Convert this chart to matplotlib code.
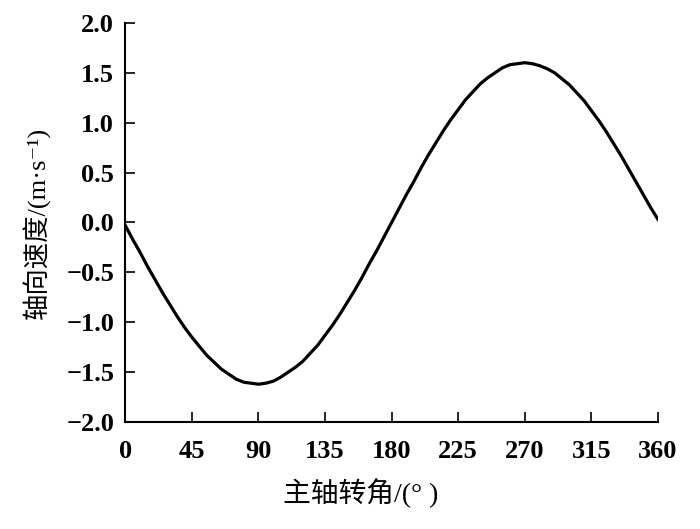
import matplotlib
matplotlib.use('Agg')
import matplotlib.pyplot as plt
from matplotlib import rcParams

rcParams['font.family'] = ['Liberation Serif', 'Noto Sans CJK SC', 'DejaVu Serif']
rcParams['axes.linewidth'] = 1.5

# main shaft angle (deg) and axial velocity (m/s)
angle = [0, 5, 10, 15, 20, 25, 30, 35, 40, 45, 50, 55, 60, 65, 70, 75, 80, 85, 90,
         95, 100, 105, 110, 115, 120, 125, 130, 135, 140, 145, 150, 155, 160, 165, 170, 175, 180,
         185, 190, 195, 200, 205, 210, 215, 220, 225, 230, 235, 240, 245, 250, 255, 260, 265, 270,
         275, 280, 285, 290, 295, 300, 305, 310, 315, 320, 325, 330, 335, 340, 345, 350, 355, 360]
velocity = [-0.03, -0.17, -0.30, -0.44, -0.57, -0.70, -0.82, -0.94, -1.05, -1.15, -1.24, -1.33,
            -1.40, -1.47, -1.52, -1.57, -1.60, -1.61, -1.62,
            -1.61, -1.59, -1.55, -1.50, -1.45, -1.39, -1.31, -1.23, -1.13, -1.03, -0.92,
            -0.80, -0.68, -0.55, -0.41, -0.28, -0.14, 0.0,
            0.14, 0.28, 0.41, 0.55, 0.68, 0.80, 0.92, 1.03, 1.13, 1.23, 1.31, 1.39,
            1.45, 1.50, 1.55, 1.58, 1.59, 1.60,
            1.59, 1.57, 1.54, 1.50, 1.44, 1.38, 1.30, 1.22, 1.12, 1.02, 0.91,
            0.79, 0.67, 0.54, 0.41, 0.28, 0.15, 0.03]

xticks = [0, 45, 90, 135, 180, 225, 270, 315, 360]
yticks = [-2.0, -1.5, -1.0, -0.5, 0.0, 0.5, 1.0, 1.5, 2.0]

fig = plt.figure(figsize=(7, 5.29), dpi=100)
ax = fig.add_axes([0.179, 0.202, 0.761, 0.755])
ax.plot(angle, velocity, color='black', linewidth=2.3)

ax.set_xlim(0, 360)
ax.set_ylim(-2.0, 2.0)
ax.set_xticks(xticks)
ax.set_yticks(yticks)
ax.set_xticklabels([str(t) for t in xticks], fontweight='bold')
ax.set_yticklabels(['\u2212' + f'{abs(t):.1f}' if t < 0 else f'{t:.1f}' for t in yticks],
                   fontweight='bold')
ax.spines['top'].set_visible(False)
ax.spines['right'].set_visible(False)
ax.tick_params(direction='in', length=7, width=1.2, labelsize=19, pad=8)
ax.tick_params(axis='x', pad=13)

ax.set_xlabel('主轴转角/(° )', fontsize=20)
ax.set_ylabel('轴向速度/(m·s\u207b\u00b9)', fontsize=19)
ax.xaxis.set_label_coords(0.441, -0.14)
ax.yaxis.set_label_coords(-0.14, 0.5)

fig.savefig('out.png', dpi=100)
